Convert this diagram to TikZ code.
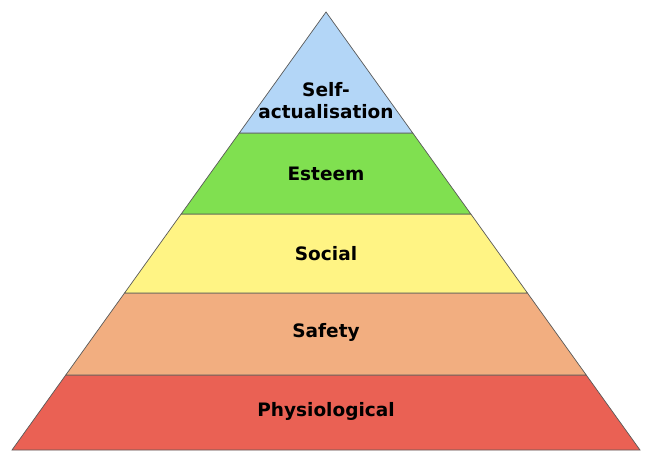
\documentclass[tikz,border=0pt]{standalone}
\usepackage{fontspec}
\setmainfont{DejaVu Sans}
\usetikzlibrary{calc,positioning}

\definecolor{selfblue}{HTML}{B3D6F7}
\definecolor{esteemgreen}{HTML}{80E050}
\definecolor{socialyellow}{HTML}{FFF484}
\definecolor{safetypeach}{HTML}{F2AE80}
\definecolor{physred}{HTML}{EA6154}

\tikzset{
	level/.style={draw=black!65,line width=0.7pt,line join=miter},
	lbl/.style={font=\fontsize{18.5}{22}\selectfont\bfseries,align=center,inner sep=0pt}
}

\begin{document}
\begin{tikzpicture}[x=1pt,y=-1pt]
		\useasboundingbox (0,0) rectangle (652,464);
		% corners of the pyramid
		\coordinate (top) at (326,12);
		\coordinate (bl) at (12,450);
		\coordinate (br) at (640,450);
		% boundaries between the levels
		\coordinate (l1) at ($(top)!121/438!(bl)$);
		\coordinate (r1) at ($(top)!121/438!(br)$);
		\coordinate (l2) at ($(top)!202/438!(bl)$);
		\coordinate (r2) at ($(top)!202/438!(br)$);
		\coordinate (l3) at ($(top)!281/438!(bl)$);
		\coordinate (r3) at ($(top)!281/438!(br)$);
		\coordinate (l4) at ($(top)!363/438!(bl)$);
		\coordinate (r4) at ($(top)!363/438!(br)$);
		\draw[level,fill=physred] (l4) -- (r4) -- (br) -- (bl) -- cycle;
		\draw[level,fill=safetypeach] (l3) -- (r3) -- (r4) -- (l4) -- cycle;
		\draw[level,fill=socialyellow] (l2) -- (r2) -- (r3) -- (l3) -- cycle;
		\draw[level,fill=esteemgreen] (l1) -- (r1) -- (r2) -- (l2) -- cycle;
		\draw[level,fill=selfblue] (top) -- (r1) -- (l1) -- cycle;
		\node[lbl] (selfact) at (326,101) {Self-\\actualisation};
		\node[lbl] (esteem) at (326,174) {Esteem};
		\node[lbl] (social) at (326,254) {Social};
		\node[lbl] (safety) at (326,332) {Safety};
		\node[lbl] (physio) at (326,411) {Physiological};
	\end{tikzpicture}
\end{document}
